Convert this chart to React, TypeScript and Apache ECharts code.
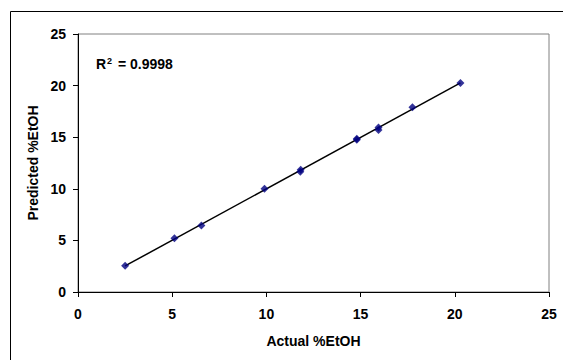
import React, { useEffect, useRef } from "react";
import * as echarts from "echarts";

const actual = [2.5, 5.12, 6.55, 9.9, 11.8, 11.82, 14.8, 14.8, 15.95, 15.95, 17.75, 20.3];
const predicted = [2.55, 5.2, 6.45, 10.0, 11.65, 11.85, 14.75, 14.85, 15.7, 15.95, 17.9, 20.25];
const xTicks = [0, 5, 10, 15, 20, 25];
const yTicks = [0, 5, 10, 15, 20, 25];
const r2Text = "0.9998";
const xTitle = "Actual %EtOH";
const yTitle = "Predicted %EtOH";

function fitLine(xs: number[], ys: number[]) {
  const n = xs.length;
  const mx = xs.reduce((a, b) => a + b, 0) / n;
  const my = ys.reduce((a, b) => a + b, 0) / n;
  let sxy = 0, sxx = 0;
  for (let i = 0; i < n; i++) {
    sxy += (xs[i] - mx) * (ys[i] - my);
    sxx += (xs[i] - mx) * (xs[i] - mx);
  }
  const slope = sxy / sxx;
  const intercept = my - slope * mx;
  const x0 = Math.min(...xs);
  const x1 = Math.max(...xs);
  return [
    [x0, slope * x0 + intercept],
    [x1, slope * x1 + intercept],
  ];
}

export default function App() {
  const ref = useRef<HTMLDivElement>(null);
  useEffect(() => {
    document.body.style.margin = "0";
    const chart = echarts.init(ref.current!, null, { renderer: "svg" });
    const font = "'Liberation Sans', Arial, sans-serif";
    const pts = actual.map((x, i) => [x, predicted[i]]);
    chart.setOption({
      animation: false,
      backgroundColor: "#ffffff",
      grid: {
        left: 78,
        right: 14,
        top: 34,
        bottom: 68,
        show: true,
        borderColor: "#808080",
        borderWidth: 1,
        backgroundColor: "transparent",
      },
      xAxis: {
        type: "value",
        min: xTicks[0],
        max: xTicks[xTicks.length - 1],
        interval: 5,
        name: xTitle,
        nameLocation: "middle",
        nameGap: 42,
        nameTextStyle: { fontFamily: font, fontWeight: "bold", fontSize: 14, color: "#000" },
        axisLine: { show: true, lineStyle: { color: "#000", width: 1 } },
        axisTick: { show: true, inside: false, length: 5, lineStyle: { color: "#000" } },
        axisLabel: { margin: 15, fontFamily: font, fontWeight: "bold", fontSize: 14, color: "#000" },
        splitLine: { show: false },
      },
      yAxis: {
        type: "value",
        min: yTicks[0],
        max: yTicks[yTicks.length - 1],
        interval: 5,
        name: yTitle,
        nameLocation: "middle",
        nameGap: 34,
        nameRotate: 90,
        nameTextStyle: { fontFamily: font, fontWeight: "bold", fontSize: 14, color: "#000" },
        axisLine: { show: true, lineStyle: { color: "#000", width: 1 } },
        axisTick: { show: true, inside: false, length: 5, lineStyle: { color: "#000" } },
        axisLabel: { margin: 12, fontFamily: font, fontWeight: "bold", fontSize: 14, color: "#000" },
        splitLine: { show: false },
      },
      graphic: [
        {
          type: "rect",
          shape: { x: 10.5, y: 11.5, width: 600, height: 400 },
          style: { fill: "none", stroke: "#000", lineWidth: 1 },
          silent: true,
          z: -1,
        },
        {
          type: "text",
          left: 96,
          top: 56,
          style: {
            text: "R{sup|2} = " + r2Text,
            font: "bold 14px " + font,
            fill: "#000",
            rich: {
              sup: {
                fontFamily: font,
                fontWeight: "bold",
                fontSize: 9,
                verticalAlign: "top",
                padding: [0, 2, 7, 1],
              },
            },
          },
        },
      ],
      series: [
        {
          type: "line",
          data: fitLine(actual, predicted),
          symbol: "none",
          lineStyle: { color: "#000", width: 1.5 },
          z: 2,
        },
        {
          type: "scatter",
          data: pts,
          symbol: "diamond",
          symbolSize: 8,
          itemStyle: { color: "#000080" },
          z: 3,
        },
      ],
    });
    return () => chart.dispose();
  }, []);
  return <div ref={ref} style={{ width: 563, height: 360 }} />;
}
